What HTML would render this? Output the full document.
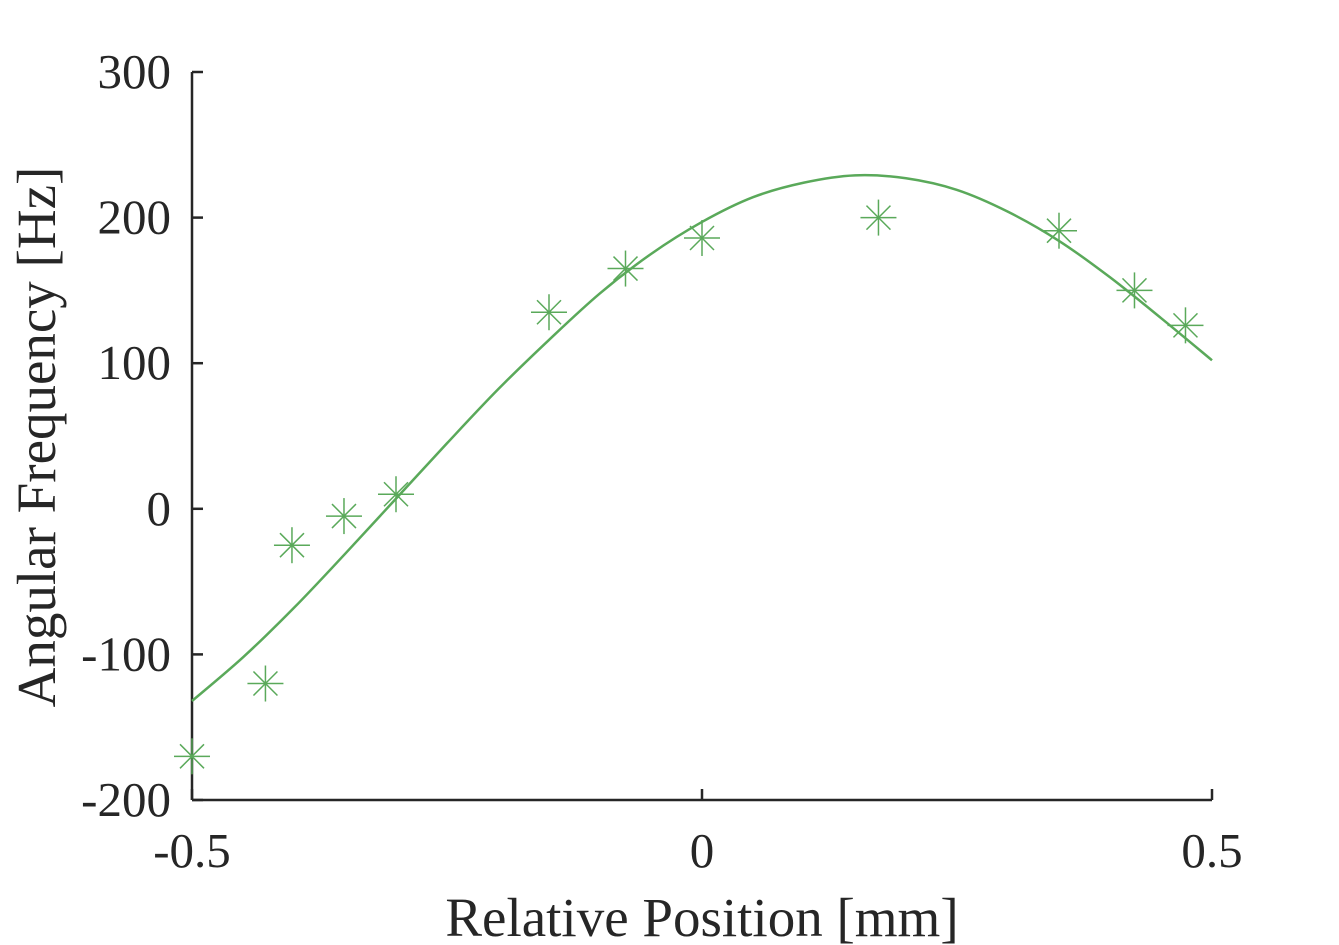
<!DOCTYPE html>
<html><head><meta charset="utf-8"><style>
html,body{margin:0;padding:0;background:#fff;}
svg{display:block;font-family:"Liberation Serif",serif;}
</style></head><body>
<svg id="chart" width="1339" height="945" viewBox="0 0 1339 945" xmlns="http://www.w3.org/2000/svg">
<g id="axes"></g>
<g id="curve"></g>
<g id="points"></g>
<text x="702" y="936" font-size="55" text-anchor="middle" fill="#262626">Relative Position [mm]</text>
<text transform="translate(55,437) rotate(-90)" font-size="55" text-anchor="middle" fill="#262626">Angular Frequency [Hz]</text>
</svg>
<script>
const xTicks = [-0.5, 0, 0.5];
const xTickLabels = ["-0.5", "0", "0.5"];
const yTicks = [-200, -100, 0, 100, 200, 300];
const yTickLabels = ["-200", "-100", "0", "100", "200", "300"];
const pointX = [-0.5, -0.428, -0.402, -0.351, -0.300, -0.150, -0.075, 0.0, 0.173, 0.350, 0.424, 0.474];
const pointY = [-170, -120, -25, -5, 10, 135, 165, 186, 200, 191, 150, 126];
const curveX = [-0.5,-0.45,-0.4,-0.35,-0.3,-0.25,-0.2,-0.15,-0.1,-0.05,0,0.05,0.1,0.15,0.2,0.25,0.3,0.35,0.4,0.45,0.5];
const curveY = [-132,-102,-68,-31,7,45,82,116,148,175,197,214,224,229,227,219,204,184,159,131,102];

const NS = "http://www.w3.org/2000/svg";
const X0 = 192, X1 = 1212, Y0 = 800, Y1 = 72;
function sx(v){ return X0 + (v + 0.5) / 1.0 * (X1 - X0); }
function sy(v){ return Y0 - (v + 200) / 500 * (Y0 - Y1); }
function mk(tag, attrs, parent){ const e = document.createElementNS(NS, tag); for (const k in attrs) e.setAttribute(k, attrs[k]); parent.appendChild(e); return e; }

const axes = document.getElementById('axes');
const ax = "#262626";
let l = mk('line', {x1:X0, y1:Y1, x2:X0, y2:Y0, stroke:ax, 'stroke-width':2.5}, axes);


l = mk('line', {x1:X0, y1:Y0, x2:X1, y2:Y0, stroke:ax, 'stroke-width':2.5}, axes);


yTicks.forEach((v, i) => {
  const t = mk('line', {x1:X0, y1:sy(v), x2:X0+11, y2:sy(v), stroke:ax, 'stroke-width':2.5}, axes);
  
  
  const tx = mk('text', {x:171, y:sy(v)+16, 'font-size':49, 'text-anchor':'end', fill:ax}, axes);
  tx.textContent = yTickLabels[i];
  
  
});
xTicks.forEach((v, i) => {
  const t = mk('line', {x1:sx(v), y1:Y0, x2:sx(v), y2:Y0-11, stroke:ax, 'stroke-width':2.5}, axes);
  
  
  const tx = mk('text', {x:sx(v), y:867, 'font-size':49, 'text-anchor':'middle', fill:ax}, axes);
  tx.textContent = xTickLabels[i];
  
  
});

const green = "#5aa95a";
const pts = curveX.map((x, i) => [sx(x), sy(curveY[i])]);
let d = `M${pts[0][0]},${pts[0][1]}`;
for (let i = 0; i < pts.length - 1; i++) {
  const p0 = pts[Math.max(i-1,0)], p1 = pts[i], p2 = pts[i+1], p3 = pts[Math.min(i+2, pts.length-1)];
  const c1 = [p1[0] + (p2[0]-p0[0])/6, p1[1] + (p2[1]-p0[1])/6];
  const c2 = [p2[0] - (p3[0]-p1[0])/6, p2[1] - (p3[1]-p1[1])/6];
  d += ` C${c1[0]},${c1[1]} ${c2[0]},${c2[1]} ${p2[0]},${p2[1]}`;
}
const cp = mk('path', {d:d, fill:'none', stroke:green, 'stroke-width':2.5}, document.getElementById('curve'));



const pg = document.getElementById('points');
pointX.forEach((x, i) => {
  const cx = sx(x), cy = sy(pointY[i]);
  const g = mk('g', {stroke:green, 'stroke-width':1.5}, pg);
  
  
  mk('line', {x1:cx-18, y1:cy, x2:cx+18, y2:cy}, g);
  mk('line', {x1:cx, y1:cy-18, x2:cx, y2:cy+18}, g);
  mk('line', {x1:cx-12, y1:cy-12, x2:cx+12, y2:cy+12}, g);
  mk('line', {x1:cx-12, y1:cy+12, x2:cx+12, y2:cy-12}, g);
});
</script>
</body></html>
